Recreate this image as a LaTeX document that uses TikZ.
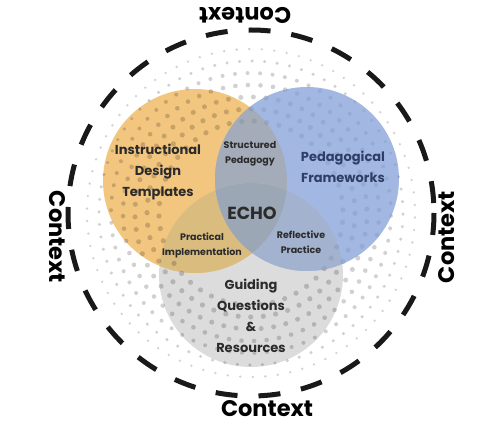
\documentclass[tikz,border=0pt]{standalone}
\usepackage{fontspec}
\setmainfont{Poppins}
\usepackage{tikz}
\usetikzlibrary{positioning}

\definecolor{tmplorange}{HTML}{F2C67F}
\definecolor{frameblue}{HTML}{A2B8E2}
\definecolor{guidegray}{HTML}{DCDCDC}
\definecolor{obmix}{HTML}{A3ACB8}
\definecolor{ogmix}{HTML}{D9BC7E}
\definecolor{bgmix}{HTML}{A3B3CF}
\definecolor{echomix}{HTML}{9CA7B6}
\definecolor{txtdark}{HTML}{2B2B2B}
\definecolor{txtnavy}{HTML}{2F3E66}

\begin{document}
\begin{tikzpicture}[x=1pt, y=-1pt,
    lbl/.style={font=\bfseries\fontsize{13}{21}\selectfont, align=center, text=txtdark},
    small/.style={font=\bfseries\fontsize{9.5}{15}\selectfont, align=center, text=txtdark},
    ctx/.style={font=\bfseries\fontsize{22.5}{24}\selectfont, text=black},
    dotc/.style={fill=black, fill opacity=#1},
    dotc/.default=0.18
]
\useasboundingbox (0,0) rectangle (493,446);

% Halftone rings of dots, #1 = opacity
\newcommand{\dotrings}[1]{%
    \foreach \r/\s in {164/1.3, 152/1.7, 140/2.0, 128/2.3, 116/2.5, 104/2.6, 92/2.6} {
        \pgfmathtruncatemacro{\n}{round(2*pi*\r/12.5)}
        \pgfmathsetmacro{\stepang}{360/\n}
        \foreach \k in {1,...,\n} {
            \fill[dotc=#1, shift={(mid)}] (\k*\stepang+\r:\r) circle[radius=\s];
        }
    }
}

% Centres of the three sets and of the whole figure
\coordinate (mid) at (251,213);
\coordinate (tmpl) at (195,181);
\coordinate (frame) at (307,179);
\coordinate (guide) at (251,275);

% Set discs
\fill[guidegray] (guide) circle[radius=92];
\fill[tmplorange] (tmpl) circle[radius=92];
\fill[frameblue] (frame) circle[radius=92];

% Pairwise overlaps
\begin{scope}
    \clip (tmpl) circle[radius=92];
    \fill[obmix] (frame) circle[radius=92];
    \fill[ogmix] (guide) circle[radius=92];
\end{scope}
\begin{scope}
    \clip (frame) circle[radius=92];
    \fill[bgmix] (guide) circle[radius=92];
\end{scope}
% Centre region
\begin{scope}
    \clip (tmpl) circle[radius=92];
    \clip (frame) circle[radius=92];
    \fill[echomix] (guide) circle[radius=92];
\end{scope}

% Dots: full strength outside the blue disc, faint inside it
\begin{scope}[even odd rule]
    \clip (0,0) rectangle (493,446) (frame) circle[radius=92];
    \dotrings{0.18}
\end{scope}
\begin{scope}
    \clip (frame) circle[radius=92];
    \dotrings{0.07}
\end{scope}

% Dashed outer boundary
\draw[line width=5pt, dash pattern=on 22pt off 21pt, black!90] (mid) circle[radius=183];

% Set labels
\node[lbl] (tmpllbl) at (158,172) {Instructional\\Design\\Templates};
\node[lbl, text=txtnavy] (framelbl) at (343,167) {Pedagogical\\Frameworks};
\node[lbl] (guidelbl) at (251,316) {Guiding\\Questions\\\&\\Resources};

% Overlap labels
\node[small] (structlbl) at (250,153.5) {Structured\\Pedagogy};
\node[small] (praclbl) at (202,245.5) {Practical\\Implementation};
\node[small] (reflbl) at (301,242.5) {Reflective\\Practice};
\node[font=\bfseries\fontsize{17.5}{18}\selectfont, text=txtdark] (echo) at (252,213) {ECHO};

% Context labels round the circle
\node[ctx, rotate=180] (ctxtop) at (245,15) {Context};
\node[ctx] (ctxbot) at (267,409) {Context};
\node[ctx, rotate=-90] (ctxleft) at (57,237) {Context};
\node[ctx, rotate=90] (ctxright) at (447,237) {Context};

\end{tikzpicture}
\end{document}
